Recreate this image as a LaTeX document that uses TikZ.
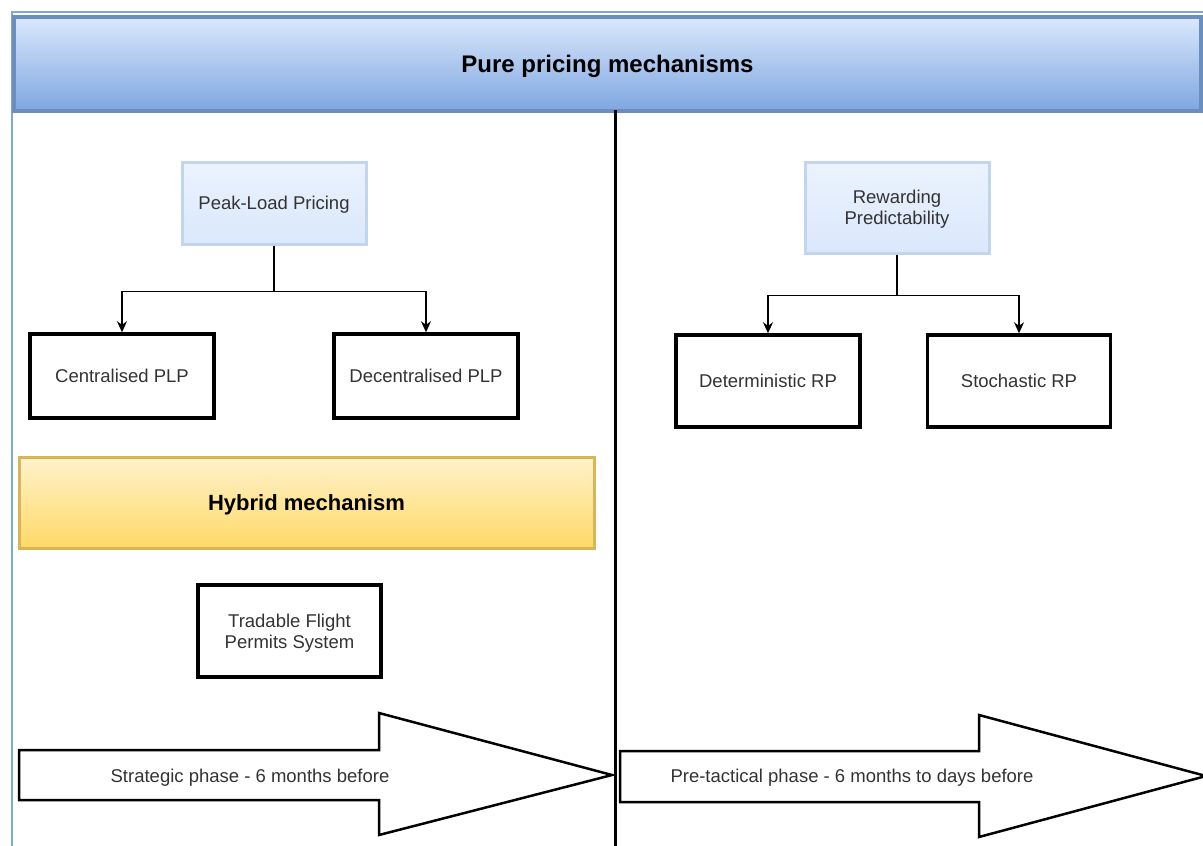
\documentclass[tikz,border=0pt]{standalone}
\usepackage{fontspec}
\setmainfont{Liberation Sans}
\usetikzlibrary{arrows.meta}
\definecolor{hdrtop}{HTML}{DAE8FC}
\definecolor{hdrbot}{HTML}{7EA6E0}
\definecolor{hdrline}{HTML}{6C8EBF}
\definecolor{mechline}{HTML}{C3D4EE}
\definecolor{hybtop}{HTML}{FFF2CC}
\definecolor{hybbot}{HTML}{FFD966}
\definecolor{hybline}{HTML}{D6B656}
\definecolor{txtgray}{HTML}{333333}

\begin{document}
\begin{tikzpicture} [x=1pt,y=-1pt,
  txt/.style={text=txtgray,font=\fontsize{18.5}{22}\selectfont,text depth=0pt},
  mech/.style={txt,draw=mechline,line width=3pt,top color=hdrtop!55,bottom color=hdrtop,
    minimum width=184pt,align=center},
  box/.style={txt,draw=black,line width=3.5pt,fill=white,align=center},
  conn/.style={line width=1.3pt,-{Stealth[length=11pt,width=10pt]}},
  phase/.style={draw=black,line width=2.5pt,fill=white}]
\useasboundingbox (0,0) rectangle (1203,846);
% outer frame
\draw [hdrbot,line width=1.5pt] (12,846) -- (12,12) -- (1205,12);
% header
\node [draw=hdrline,line width=4.5pt,top color=hdrtop,bottom color=hdrbot,
  minimum width=1187pt,minimum height=94pt,text depth=0pt,
  font=\fontsize{24}{28}\bfseries\selectfont] (head) at (607.5,64) {Pure pricing mechanisms};
% divider
\draw [line width=3pt] (615,110) -- (615,846);
% peak-load pricing
\node [mech,minimum height=82pt] (plp) at (274,203) {Peak-Load Pricing};
\node [box,minimum width=184pt,minimum height=84pt] (cplp) at (122,376) {Centralised PLP};
\node [box,minimum width=184pt,minimum height=84pt] (dplp) at (426,376) {Decentralised PLP};
\draw [conn] (plp.south) -- ++(0,46) -| (cplp.north);
\draw [conn] (plp.south) -- ++(0,46) -| (dplp.north);
% rewarding predictability
\node [mech,minimum height=91pt] (rp) at (897,207.5) {Rewarding\\[-1pt]Predictability};
\node [box,minimum width=184pt,minimum height=92pt] (drp) at (768,381) {Deterministic RP};
\node [box,minimum width=183pt,minimum height=92pt] (srp) at (1019,381) {Stochastic RP};
\draw [conn] (rp.south) -- ++(0,41) -| (drp.north);
\draw [conn] (rp.south) -- ++(0,41) -| (srp.north);
% hybrid
\node [draw=hybline,line width=3pt,top color=hybtop,bottom color=hybbot,
  minimum width=575pt,minimum height=91pt,text depth=0pt,
  font=\fontsize{22}{26}\bfseries\selectfont] (hyb) at (306.5,502.5) {Hybrid mechanism};
\node [box,minimum width=183pt,minimum height=92pt] (tfps) at (289.5,631) {Tradable Flight\\[-1pt]Permits System};
% phases
\draw [phase] (19,750) -- (379,750) -- (379,713) -- (612,775) -- (379,835) -- (379,800) -- (19,800) -- cycle;
\node [txt] (strat) at (250,776) {Strategic phase - 6 months before};
\draw [phase] (620,751) -- (979,751) -- (979,715) -- (1206,776) -- (979,837) -- (979,802) -- (620,802) -- cycle;
\node [txt] (pretac) at (852,776) {Pre-tactical phase - 6 months to days before};
\end{tikzpicture}
\end{document}
